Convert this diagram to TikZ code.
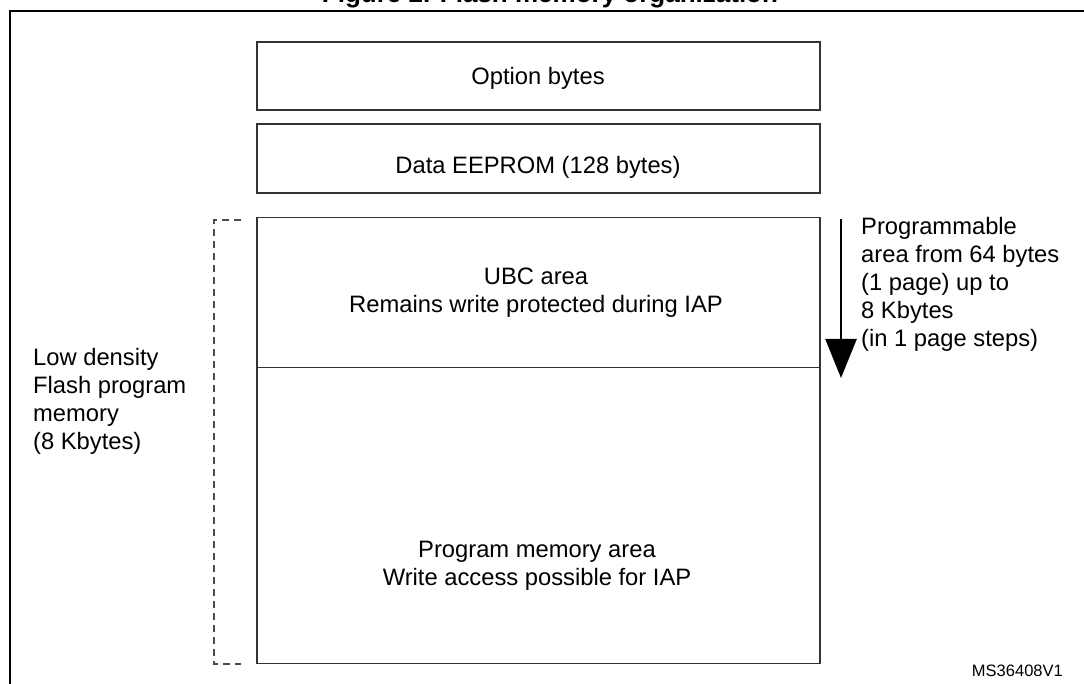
\documentclass[tikz,border=0pt]{standalone}
\usepackage{fontspec}
\setmainfont{Liberation Sans}
\usetikzlibrary{arrows.meta}
\begin{document}
\begin{tikzpicture}[x=1pt,y=1pt,
  membox/.style={draw=black!80, line width=1.4pt},
  txt/.style={inner sep=0pt, font=\fontsize{23.75}{28}\selectfont},
  frameline/.style={draw=black, line width=2.4pt},
  bracket/.style={draw=black!70, line width=1.4pt, dash pattern=on 7pt off 5pt},
  bigarrow/.style={draw=black, line width=2.6pt, -{Triangle[width=31pt,length=39pt]}}
]
\clip (0,0) rectangle (1084,684);
\fill[white] (0,0) rectangle (1084,684);
% title (cut at top)
\node[inner sep=0pt, anchor=base, font=\fontsize{26}{30}\selectfont\bfseries] (title) at (550,681) {Figure 2. Flash memory organization};
% frame
\coordinate (fa) at (10,-20);
\coordinate (fb) at (10,673);
\coordinate (fc) at (1120,673);
\draw[frameline] (fa) -- (fb) -- (fc);
% boxes
\node[membox, minimum width=563pt, minimum height=68pt, inner sep=0pt] (opt) at (538.5,608) {};
\node[membox, minimum width=563pt, minimum height=69pt, inner sep=0pt] (eep) at (538.5,525.5) {};
\node[membox, minimum width=563pt, minimum height=150pt, inner sep=0pt, anchor=north] (ubc) at (538.5,467) {};
\node[membox, minimum width=563pt, minimum height=296pt, inner sep=0pt, anchor=north] (prog) at (538.5,317) {};
% box texts
\node[txt, anchor=base] (optt) at (538,599) {Option bytes};
\node[txt, anchor=base] (eept) at (538,510) {Data EEPROM (128 bytes)};
\node[txt, anchor=north, align=center] (ubct) at (536,416.6) {UBC area\\Remains write protected during IAP};
\node[txt, anchor=north, align=center] (progt) at (537,143) {Program memory area\\Write access possible for IAP};
% left bracket and label
\coordinate (ba) at (241,464);
\coordinate (bb) at (214,464);
\coordinate (bc) at (214,20);
\coordinate (bd) at (241,20);
\draw[bracket] (ba) -- (bb) -- (bc) -- (bd);
\node[txt, anchor=north west, align=left] (lowt) at (33,336) {Low density\\Flash program\\memory\\(8 Kbytes)};
% right arrow and label
\coordinate (aa) at (841,465);
\coordinate (ab) at (841,306);
\draw[bigarrow] (aa) -- (ab);
\node[txt, anchor=north west, align=left] (progr) at (861,467) {Programmable\\area from 64 bytes\\(1 page) up to\\8 Kbytes\\(in 1 page steps)};
% reference id
\node[inner sep=0pt, anchor=base east, font=\fontsize{16.5}{19}\selectfont] (ms) at (1063,7) {MS36408V1};
\end{tikzpicture}
\end{document}
